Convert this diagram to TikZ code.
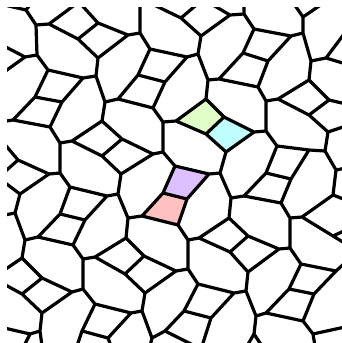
\documentclass[tikz,border=0pt]{standalone}
\usepackage{tikz}
\definecolor{qgreen}{RGB}{224,255,200}
\definecolor{qcyan}{RGB}{192,255,255}
\definecolor{qpurple}{RGB}{220,192,255}
\definecolor{qpink}{RGB}{255,192,192}
\tikzset{edge/.style={line width=3.2pt,line cap=round,line join=round,black}}
\begin{document}
\begin{tikzpicture}[x=1pt,y=-1pt]
\useasboundingbox (0,0) rectangle (342,343);
\foreach \n/\x/\y in {
P1/26/10,P2/36/25,P3/49/24,P4/78/39,P5/37/55,P6/98/58,P7/96/76,P8/83/78,P9/48/70,P10/25/57,
Q1/98/23,Q2/128/35,Q3/140/33,Q4/150/49,Q5/138/75,Q6/165/82,
R1/181/18,R2/201/36,R3/230/15,R4/244/14,R5/254/29,R6/198/54,R7/187/57,R8/208/80,R9/219/79,
R10/243/53,R11/258/87,R12/268/61,R13/291/36,R14/303/33,R15/303/17,R16/311/61,R17/326/58,R18/309/80,
S1/35/97,S2/62/102,S3/13/120,S4/50/127,S5/60/143,S6/72/141,S7/102/121,S8/102/156,S9/105/102,
S10/122/139,S11/118/99,S12/153/108,S13/163/122,S14/153/154,S15/163/152,S16/121/174,S17/18/160,S18/49/174,
T1/206/99,T2/224/117,T3/206/134,T4/176/121,T5/254/132,T6/226/152,T7/266/131,T8/266/101,T9/278/99,
T10/309/115,T11/329/100,T12/328/132,T13/325/151,T14/277/146,T15/309/150,
U1/60/173,U2/20/194,U3/70/187,U4/15/213,U5/25/240,U6/38/237,U7/60/214,U8/73/245,U9/85/220,
U10/107/196,U10b/118/194,U12/128/218,U13/142/216,U14/126/238,
Vb/163/193,Vc/187/199,Vd/178/225,Ve/175/166,Vf/209/174,Vg/220/173,
W1/231/198,W2/244/196,W3/266/173,W4/291/179,W5/281/203,W6/290/218,W7/302/217,W8/333/195,W9/333/236,
W10/229/218,W11/248/236,W12/230/252,W13/279/249,W14/248/272,W15/246/291,W16/290/248,W17/256/316,
W18/266/313,W19/254/334,W20/289/289,W21/303/321,W22/301/264,W23/314/294,W24/336/271,W25/313/334,W26/336/170,
X1/22/258,X2/42/278,X3/72/292,X4/22/294,X5/42/313,X6/40/331,X7/30/334,X8/83/289,X9/83/259,X10/95/257,
X11/125/274,X12/144/256,X13/176/271,X14/145/293,X15/142/311,X16/95/304,X17/131/313,X18/108/338,X19/82/331,X20/152/338,
Y0/188/240,Y1/188/269,Y2/198/284,Y3/199/238,Y4/234/293,Y6/211/318,Y7/184/311,Y8/165/331,
e1/0/4,e2/32/2,e3/80/1,e4/78/1,e5/140/0,e6/150/3,e7/201/1,e8/206/1,e9/244/0,e10/292/1,e11/325/2,
e12/344/34,e13/346/64,e14/0/44,e15/0/75,e16/0/122,e17/2/141,e18/0/176,e19/0/179,e20/0/216,e21/0/273,
e22/0/282,e23/0/327,e24/24/346,e25/42/346,e26/77/346,e27/111/346,e28/150/346,e29/195/346,e30/202/346,
e31/247/346,e32/262/346,e33/345/327,e34/315/346,e35/346/262,e36/346/230,e37/346/244,e38/346/168,
e39/346/200,e40/346/104,e41/346/126}
  {\coordinate (\n) at (\x,\y);}
\begin{scope}
\clip (7,7) rectangle (342,343);
\fill[qgreen] (T1)--(T2)--(T3)--(T4)--cycle;
\fill[qcyan] (T2)--(T5)--(T6)--(T3)--cycle;
\fill[qpurple] (Vb)--(Ve)--(Vf)--(Vc)--cycle;
\fill[qpink] (U13)--(Vb)--(Vc)--(Vd)--cycle;
\draw[edge]
 (P1)--(P2) (P2)--(P3) (P2)--(P5) (P3)--(P4) (P4)--(Q1) (P4)--(P6) (Q1)--(Q2) (Q2)--(Q3) (Q2)--(P6)
 (Q3)--(Q4) (P6)--(P7) (P7)--(P8) (P7)--(S9) (P8)--(P9) (P8)--(S2) (P9)--(P5) (P9)--(S1) (P5)--(P10)
 (Q4)--(R7) (Q4)--(Q5) (Q5)--(Q6) (Q5)--(S11) (Q6)--(R7) (Q6)--(S12)
 (R1)--(R2) (R2)--(R3) (R2)--(R6) (R3)--(R4) (R4)--(R5) (R5)--(R13) (R5)--(R10) (R7)--(R6) (R6)--(R8)
 (R8)--(R9) (R8)--(T1) (R9)--(R10) (R9)--(R11) (R10)--(R12) (R12)--(R13) (R12)--(R11) (R13)--(R14)
 (R14)--(R15) (R14)--(R16) (R16)--(R17) (R16)--(R18) (R11)--(T8) (R18)--(T9) (R18)--(T11)
 (S1)--(S2) (S1)--(S3) (S2)--(S4) (S3)--(S4) (S4)--(S5) (S5)--(S6) (S5)--(U1) (S6)--(S7) (S6)--(S8)
 (S7)--(S9) (S7)--(S10) (S9)--(S11) (S11)--(S12) (S12)--(S13) (S13)--(T4) (S13)--(S15) (S10)--(S8)
 (S10)--(S14) (S8)--(S16) (S14)--(S15) (S14)--(S16) (S15)--(Ve) (S17)--(S18) (S18)--(U1) (S18)--(U2)
 (T1)--(T2) (T2)--(T3) (T3)--(T4) (T4)--(T1) (T2)--(T5) (T5)--(T6) (T6)--(T3) (T5)--(T7) (T7)--(T8)
 (T7)--(T14) (T8)--(T9) (T9)--(T10) (T10)--(T11) (T10)--(T12) (T12)--(T13) (T13)--(T15) (T15)--(T14)
 (T14)--(W3) (T6)--(Vg) (T13)--(W26) (W4)--(T15)
 (U1)--(U3) (U2)--(U4) (U4)--(U5) (U5)--(U6) (U5)--(X1) (U6)--(U7) (U6)--(U8) (U7)--(U3) (U7)--(U9)
 (U3)--(U10) (U9)--(U8) (U9)--(U10) (U10)--(U10b) (U10b)--(S16) (U10b)--(U12) (U12)--(U13) (U12)--(U14)
 (U13)--(Vb) (U13)--(Vd) (U14)--(X10) (U14)--(X12) (U8)--(X9)
 (Vb)--(Vc) (Vb)--(Ve) (Ve)--(Vf) (Vf)--(Vc) (Vc)--(Vd) (Vf)--(Vg) (Vg)--(W1) (Vd)--(Y0)
 (W1)--(W2) (W1)--(W10) (W2)--(W3) (W2)--(W5) (W3)--(W4) (W4)--(W5) (W5)--(W6) (W6)--(W7) (W6)--(W16)
 (W7)--(W8) (W7)--(W9) (W10)--(Y3) (W10)--(W11) (W11)--(W12) (W11)--(W13) (W12)--(Y3) (W12)--(W14)
 (W13)--(W14) (W13)--(W16) (W14)--(W15) (W15)--(Y4) (W15)--(W17) (W16)--(W22) (W17)--(W18) (W17)--(W19)
 (W18)--(W20) (W18)--(W21) (W20)--(W22) (W20)--(W23) (W22)--(W24) (W23)--(W24) (W23)--(W21) (W21)--(W25)
 (W8)--(W26)
 (X1)--(X2) (X2)--(X3) (X2)--(X4) (X4)--(X5) (X5)--(X3) (X5)--(X6) (X6)--(X7) (X3)--(X8) (X8)--(X9)
 (X8)--(X16) (X9)--(X10) (X10)--(X11) (X11)--(X12) (X11)--(X14) (X12)--(X13) (X13)--(X14) (X13)--(Y1)
 (X14)--(X15) (X15)--(X17) (X15)--(X20) (X16)--(X17) (X16)--(X19) (X17)--(X18) (X18)--(X19) (X20)--(Y8)
 (Y0)--(Y1) (Y0)--(Y3) (Y1)--(Y2) (Y2)--(Y4) (Y2)--(Y7) (Y4)--(Y6) (Y6)--(Y7) (Y7)--(Y8)
 (P1)--(e1) (P1)--(e2) (P3)--(e3) (Q1)--(e4) (Q3)--(e5) (R1)--(e6) (R1)--(e7) (R3)--(e8) (R4)--(e9)
 (R15)--(e10) (R15)--(e11) (R17)--(e12) (R17)--(e13) (P10)--(e14) (P10)--(e15) (S3)--(e16)
 (S17)--(e17) (S17)--(e18) (U2)--(e19) (U4)--(e20) (X1)--(e21) (X4)--(e22) (X7)--(e23) (X7)--(e24)
 (X6)--(e25) (X19)--(e26) (X18)--(e27) (X20)--(e28) (Y8)--(e29) (Y6)--(e30) (W19)--(e31) (W19)--(e32)
 (W25)--(e33) (W25)--(e34) (W24)--(e35) (W9)--(e36) (W9)--(e37) (W26)--(e38) (W8)--(e39)
 (T11)--(e40) (T12)--(e41);
\end{scope}
\end{tikzpicture}
\end{document}
